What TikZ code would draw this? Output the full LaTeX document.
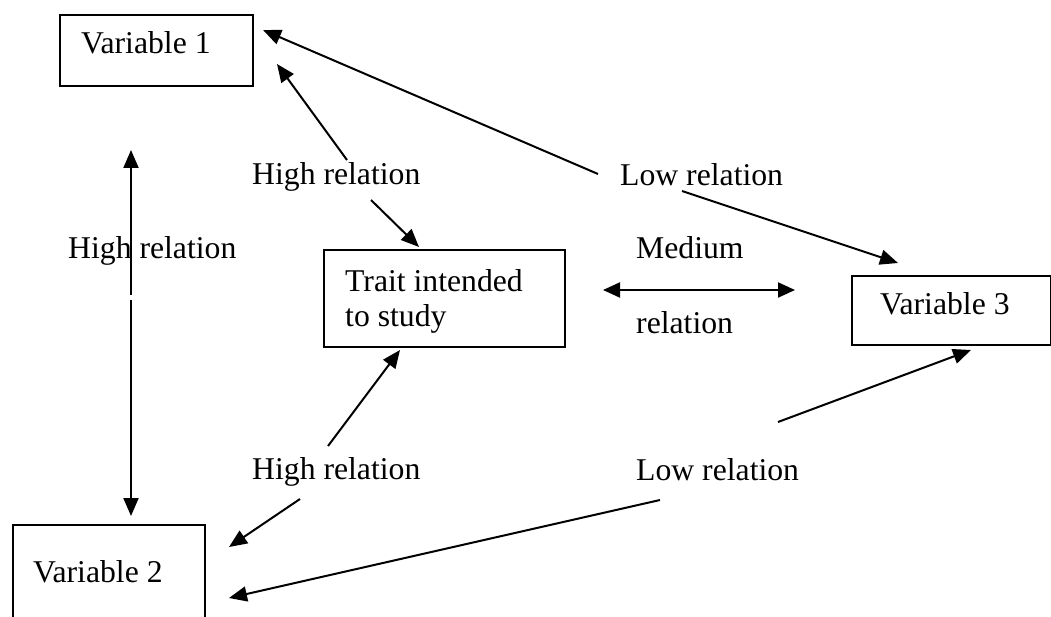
\documentclass[tikz,border=0pt]{standalone}
\usepackage{fontspec}
\setmainfont{Liberation Serif}
\usetikzlibrary{arrows.meta}
\begin{document}
\begin{tikzpicture}[x=1pt,y=-1pt,
  box/.style={draw,line width=2.2pt,inner sep=0pt,anchor=north west},
  lbl/.style={anchor=base west,inner sep=0pt,font=\fontsize{31.7}{38}\selectfont},
  arr/.style={line width=2pt,-{Triangle[length=18pt,width=15pt]}},
  darr/.style={line width=2pt,{Triangle[length=17pt,width=15pt]}-{Triangle[length=17pt,width=15pt]}}]
\useasboundingbox[fill=white] (0,0) rectangle (1051,617);
% boxes
\node[box,minimum width=193pt,minimum height=71pt] (v1) at (59,14) {};
\node[box,minimum width=241pt,minimum height=97pt] (tr) at (323,249) {};
\node[box,minimum width=199pt,minimum height=69pt] (v3) at (851,275) {};
\node[box,minimum width=192pt,minimum height=130pt] (v2) at (12,524) {};
% texts
\node[lbl] (t1) at (81,54) {Variable 1};
\node[lbl] (t2) at (33,582) {Variable 2};
\node[lbl] (t3) at (880,315) {Variable 3};
\node[lbl] (tt1) at (345,291) {Trait intended};
\node[lbl] (tt2) at (345,326) {to study};
\node[lbl] (hl) at (68,259) {High relation};
\node[lbl] (hu) at (252,185) {High relation};
\node[lbl] (hd) at (252,479) {High relation};
\node[lbl] (lu) at (620,186) {Low relation};
\node[lbl] (ld) at (636,480) {Low relation};
\node[lbl] (me) at (636,259) {Medium};
\node[lbl] (re) at (636,333) {relation};
% connector end points
\coordinate (vA) at (131,150);
\coordinate (vB) at (131,295);
\coordinate (vC) at (131,300);
\coordinate (vD) at (131,516);
\coordinate (huA) at (347,160);
\coordinate (huB) at (277,64);
\coordinate (huC) at (371,200);
\coordinate (huD) at (419,247);
\coordinate (luA) at (598,174);
\coordinate (luB) at (263,30);
\coordinate (luC) at (682,191);
\coordinate (luD) at (898,263);
\coordinate (mA) at (603,290);
\coordinate (mB) at (795,290);
\coordinate (ldA) at (778,422);
\coordinate (ldB) at (971,350);
\coordinate (ldC) at (660,500);
\coordinate (ldD) at (229,598);
\coordinate (hdA) at (328,446);
\coordinate (hdB) at (400,350);
\coordinate (hdC) at (300,499);
\coordinate (hdD) at (229,547);
% connectors
\draw[arr] (vB) -- (vA);
\draw[arr] (vC) -- (vD);
\draw[arr] (huA) -- (huB);
\draw[arr] (huC) -- (huD);
\draw[arr] (luA) -- (luB);
\draw[arr] (luC) -- (luD);
\draw[darr] (mA) -- (mB);
\draw[arr] (ldA) -- (ldB);
\draw[arr] (ldC) -- (ldD);
\draw[arr] (hdA) -- (hdB);
\draw[arr] (hdC) -- (hdD);
\end{tikzpicture}
\end{document}
